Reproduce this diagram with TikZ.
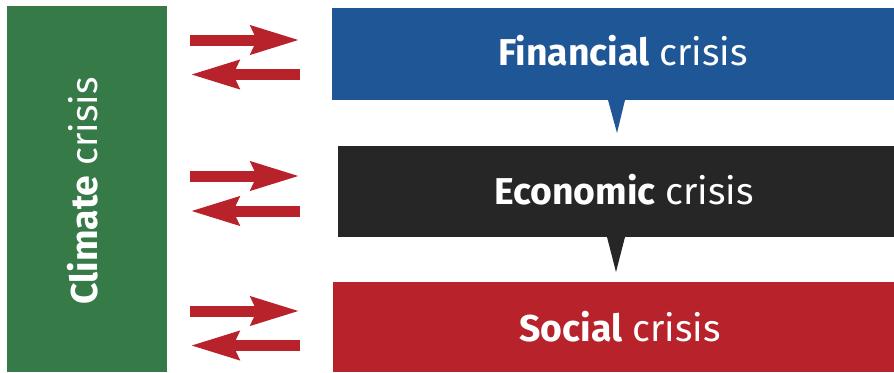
\documentclass[tikz,border=0pt]{standalone}
\usepackage{fontspec}
\setmainfont{Fira Sans}
\usetikzlibrary{arrows.meta}
\definecolor{cgreen}{HTML}{357A47}
\definecolor{cblue}{HTML}{1F5796}
\definecolor{cblack}{HTML}{262626}
\definecolor{cred}{HTML}{B8222A}
\tikzset{
  lbl/.style={text=white, font=\fontsize{37.5}{42}\selectfont, anchor=base, inner sep=0pt},
  arr/.style={cred, line width=11bp, line cap=butt, -{Stealth[length=48bp, width=27bp, inset=5bp]}},
}
\begin{document}
\begin{tikzpicture}[x=1bp, y=-1bp]
\useasboundingbox (0,0) rectangle (894,372);
% boxes
\fill[cgreen] (7,6) rectangle (167,372);
\fill[cblue] (332,8) rectangle (894,100);
\fill[cblue] (608,100) -- (625,100) -- (617,133) -- cycle;
\fill[cblack] (338,146) rectangle (894,237);
\fill[cblack] (607,237) -- (625,237) -- (616,272) -- cycle;
\fill[cred] (333,282) rectangle (894,372);
% labels
\node[lbl, rotate=90, anchor=center] (clim) at (83,191) {\textbf{Climate} crisis};
\node[lbl] (fin) at (623,65) {\textbf{Financial} crisis};
\node[lbl] (eco) at (624,204) {\textbf{Economic} crisis};
\node[lbl] (soc) at (620,341) {\textbf{Social} crisis};
% arrows
\coordinate (a1s) at (190,40);   \coordinate (a1e) at (300,40);
\coordinate (b1s) at (300,74.5); \coordinate (b1e) at (190,74.5);
\coordinate (a2s) at (190,176);  \coordinate (a2e) at (300,176);
\coordinate (b2s) at (300,211);  \coordinate (b2e) at (190,211);
\coordinate (a3s) at (190,311);  \coordinate (a3e) at (300,311);
\coordinate (b3s) at (300,345.5);\coordinate (b3e) at (190,345.5);
\draw[arr] (a1s) -- (a1e);
\draw[arr] (b1s) -- (b1e);
\draw[arr] (a2s) -- (a2e);
\draw[arr] (b2s) -- (b2e);
\draw[arr] (a3s) -- (a3e);
\draw[arr] (b3s) -- (b3e);
\end{tikzpicture}
\end{document}
